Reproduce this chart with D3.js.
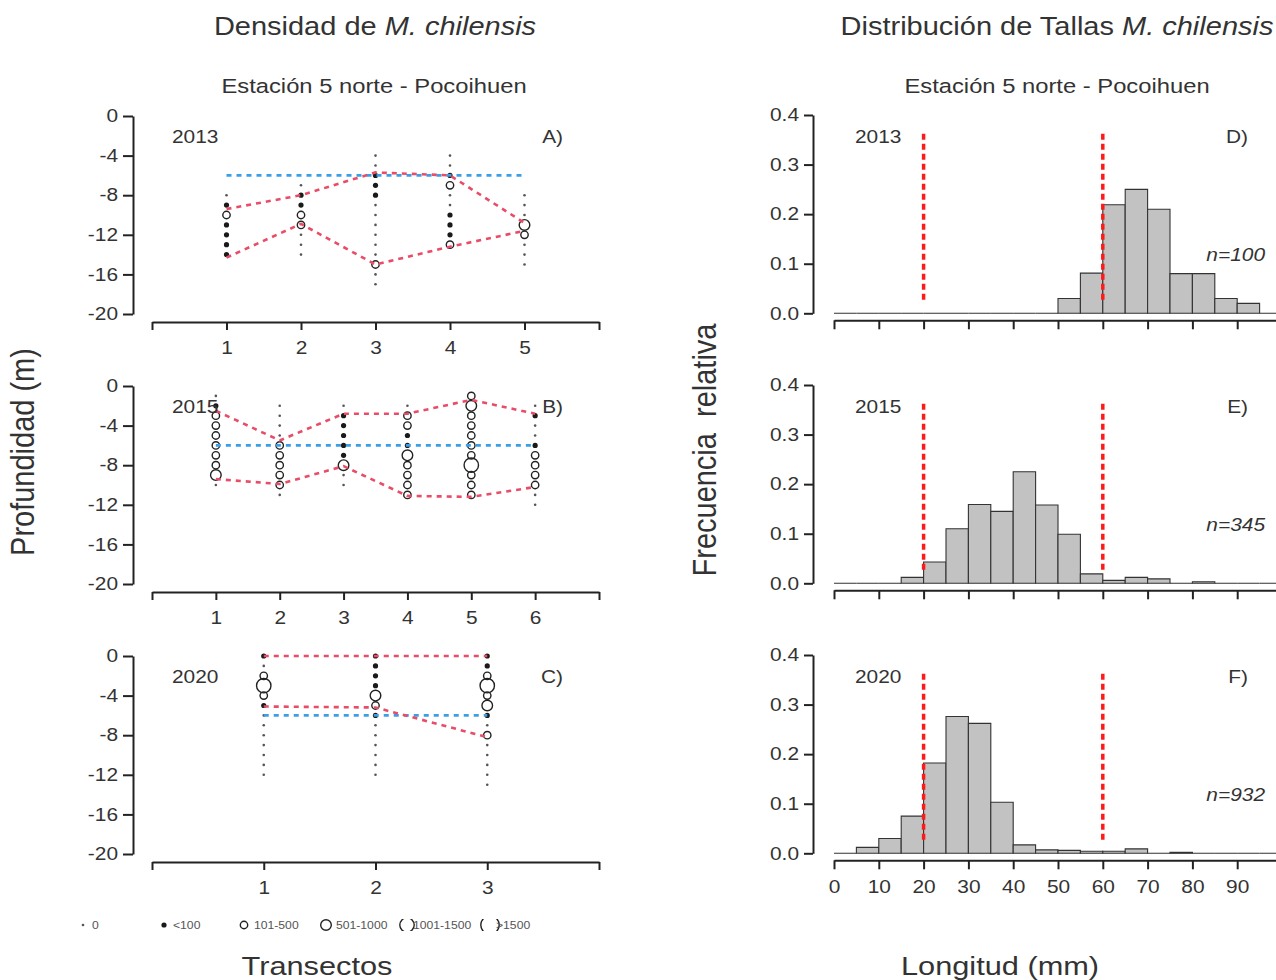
<!DOCTYPE html>
<html>
<head>
<meta charset="utf-8">
<script src="https://cdn.jsdelivr.net/npm/d3@7"></script>
<style>
  body { margin: 0; background: #fff; }
  svg { display: block; font-family: "Liberation Sans", Arial, sans-serif; }
</style>
</head>
<body>
<svg width="1276" height="980"></svg>
<script>
// horizontal stretch of the original figure (text looks wider than tall)
const SX = 1.16;

// ---- density panels (depth in m, one array per transect, from the top dot downwards)
const sizeClasses = ["0", "<100", "101-500", "501-1000", "1001-1500", ">1500"];

const transects2013 = [1, 2, 3, 4, 5];
const top2013 = [-8, -7, -4, -4, -8];
const dens2013 = [
    [0, 1, 2, 1, 1, 1, 1],
    [0, 1, 1, 2, 2, 0, 0, 0],
    [0, 0, 1, 1, 1, 0, 0, 0, 0, 0, 0, 2, 0, 0],
    [0, 0, 1, 2, 0, 0, 1, 1, 1, 2],
    [0, 0, 0, 3, 2, 0, 0, 0]
];
const upper2013 = [-9.4, -8, -5.7, -6, -10.8];
const lower2013 = [-14.3, -10.9, -15, -13.2, -11.6];

const transects2015 = [1, 2, 3, 4, 5, 6];
const top2015 = [-1, -2, -2, -2, -1, -2];
const dens2015 = [
    [0, 1, 2, 2, 2, 2, 2, 2, 3, 0],
    [0, 0, 0, 0, 2, 2, 2, 2, 2, 0],
    [0, 1, 1, 1, 1, 1, 3, 0, 0],
    [0, 2, 2, 1, 1, 3, 2, 2, 2, 2],
    [2, 3, 2, 2, 2, 2, 2, 4, 2, 2, 2],
    [0, 1, 0, 0, 1, 2, 2, 2, 2, 0, 0]
];
const upper2015 = [-2.5, -5.5, -2.8, -2.8, -1.4, -2.8];
const lower2015 = [-9.4, -9.9, -8.1, -11.1, -11.2, -10.2];

const transects2020 = [1, 2, 3];
const top2020 = [0, 0, 0];
const dens2020 = [
    [1, 0, 2, 4, 2, 1, 0, 0, 0, 0, 0, 0, 0],
    [1, 1, 1, 1, 3, 2, 1, 0, 0, 0, 0, 0, 0],
    [1, 1, 2, 4, 2, 3, 1, 0, 2, 0, 0, 0, 0, 0]
];
const upper2020 = [0, 0, 0];
const lower2020 = [-5.1, -5.2, -8.2];

const refDepth = -6;
const depthTicks = [0, -4, -8, -12, -16, -20];

// ---- size distribution panels (relative frequency per 5 mm class)
const binStarts = [0, 5, 10, 15, 20, 25, 30, 35, 40, 45, 50, 55, 60, 65, 70, 75, 80, 85, 90, 95];
const freq2013 = [0, 0, 0, 0, 0, 0, 0, 0, 0, 0, 0.03, 0.081, 0.219, 0.25, 0.21, 0.08, 0.08, 0.03, 0.02, 0];
const freq2015 = [0, 0, 0, 0.012, 0.043, 0.11, 0.159, 0.145, 0.225, 0.158, 0.099, 0.019, 0.006, 0.012, 0.009, 0, 0.003, 0, 0, 0];
const freq2020 = [0, 0.012, 0.03, 0.075, 0.182, 0.276, 0.262, 0.103, 0.017, 0.007, 0.006, 0.004, 0.004, 0.009, 0, 0.002, 0, 0, 0, 0];
const sampleN = ["n=100", "n=345", "n=932"];
const sizeLimits = [20, 60];
const lengthTicks = [0, 10, 20, 30, 40, 50, 60, 70, 80, 90, 100];
const years = ["2013", "2015", "2020"];

const svg = d3.select("svg");
const ink = "#333";

function txt(g, x, y, s, size, anchor) {
    return g.append("text")
        .attr("transform", `translate(${x},${y}) scale(${SX},1)`)
        .attr("text-anchor", anchor || "start")
        .style("font-size", size + "px")
        .style("fill", ink)
        .text(s);
}

function styleAxis(g) {
    g.select(".domain").attr("stroke", "#222").attr("stroke-width", 2);
    g.selectAll(".tick line").attr("stroke", "#222").attr("stroke-width", 2);
    g.selectAll("text")
        .style("font-size", "18px")
        .style("fill", ink)
        .style("font-family", "'Liberation Sans', Arial, sans-serif")
        .each(function() {
            const t = d3.select(this);
            const x = +t.attr("x") || 0;
            t.attr("x", 0).attr("transform", `translate(${x},0) scale(${SX},1)`);
        });
}

const radius = [1.3, 2.6, 3.7, 5.3, 7.2, 9.2];

function drawMarker(g, x, y, c) {
    if (c <= 1) {
        g.append("circle").attr("cx", x).attr("cy", y).attr("r", radius[c])
            .attr("fill", c === 0 ? "#555" : "#1a1a1a");
    } else {
        g.append("circle").attr("cx", x).attr("cy", y).attr("r", radius[c])
            .attr("fill", "none").attr("stroke", "#222").attr("stroke-width", 1.4);
    }
}

// ---- left column
const leftPanels = [
    { t: transects2013, top: top2013, dens: dens2013, up: upper2013, low: lower2013, y0: 116, lab: "A)" },
    { t: transects2015, top: top2015, dens: dens2015, up: upper2015, low: lower2015, y0: 386, lab: "B)" },
    { t: transects2020, top: top2020, dens: dens2020, up: upper2020, low: lower2020, y0: 656, lab: "C)" }
];

leftPanels.forEach((p, i) => {
    const g = svg.append("g");
    const n = p.t.length;
    const x = d3.scaleLinear().domain([0, n + 1]).range([152, 599]);
    const y = d3.scaleLinear().domain([0, -20]).range([p.y0, p.y0 + 198]);

    const ya = g.append("g").attr("transform", "translate(133,0)")
        .call(d3.axisLeft(y).tickValues(depthTicks).tickSize(10).tickPadding(5).tickSizeOuter(0).tickFormat(d => String(d)));
    styleAxis(ya);

    const xa = g.append("g").attr("transform", `translate(0,${p.y0 + 206})`)
        .call(d3.axisBottom(x).tickValues(d3.range(0, n + 2)).tickSize(8).tickPadding(11).tickSizeOuter(0)
            .tickFormat(d => (d === 0 || d === n + 1) ? "" : String(d)));
    styleAxis(xa);

    // dot columns
    p.dens.forEach((col, k) => {
        col.forEach((c, j) => drawMarker(g, x(p.t[k]), y(p.top[k] - j), c));
    });

    const line = d3.line().x((d, k) => x(p.t[k])).y(d => y(d));
    g.append("path").attr("d", line(p.t.map(() => refDepth)))
        .attr("fill", "none").attr("stroke", "#3b9fe8").attr("stroke-width", 2.6).attr("stroke-dasharray", "5,5");
    [p.up, p.low].forEach(arr => {
        g.append("path").attr("d", line(arr))
            .attr("fill", "none").attr("stroke", "#e84c67").attr("stroke-width", 2.6).attr("stroke-dasharray", "5,5");
    });

    txt(g, 172, p.y0 + 27, years[i], 18);
    txt(g, 563, p.y0 + 27, p.lab, 18, "end");
});

// legend
const lg = svg.append("g");
svg.append("defs").append("clipPath").attr("id", "legclip")
    .append("rect").attr("x", 0).attr("y", 919).attr("width", 600).attr("height", 12);
const legX = [83, 164, 244, 326, 407, 490];
const legTextX = [92, 173, 254, 336, 413, 496];
sizeClasses.forEach((s, i) => {
    const m = lg.append("g").attr("clip-path", "url(#legclip)");
    drawMarker(m, legX[i], 925, i);
    lg.append("text")
        .attr("transform", `translate(${legTextX[i]},929) scale(${SX},1)`)
        .style("font-size", "10.5px").style("fill", "#555").text(s);
});

// ---- right column
const rightPanels = [
    { f: freq2013, y0: 313.3, lab: "D)" },
    { f: freq2015, y0: 583.3, lab: "E)" },
    { f: freq2020, y0: 853.3, lab: "F)" }
];

rightPanels.forEach((p, i) => {
    const g = svg.append("g");
    const x = d3.scaleLinear().domain([0, 100]).range([834, 1282]);
    const y = d3.scaleLinear().domain([0, 0.4]).range([p.y0, p.y0 - 198.3]);

    const ya = g.append("g").attr("transform", "translate(813,0)")
        .call(d3.axisLeft(y).tickValues([0, 0.1, 0.2, 0.3, 0.4]).tickSize(9).tickPadding(5).tickSizeOuter(0).tickFormat(d3.format(".1f")));
    styleAxis(ya);

    const xa = g.append("g").attr("transform", `translate(0,${p.y0 + 7})`)
        .call(d3.axisBottom(x).tickValues(lengthTicks).tickSize(9).tickPadding(11).tickSizeOuter(0)
            .tickFormat(d => (i === 2 && d < 100) ? String(d) : ""));
    styleAxis(xa);

    // bars as paths so that empty classes still show as a flat line
    g.selectAll(".bar").data(p.f).enter().append("path")
        .attr("d", (d, k) => {
            const x0 = x(binStarts[k]), x1 = x(binStarts[k] + 5);
            return `M${x0},${y(0)}V${y(d)}H${x1}V${y(0)}Z`;
        })
        .attr("fill", "#c2c2c2").attr("stroke", "#333").attr("stroke-width", 1.1);

    sizeLimits.forEach(v => {
        g.append("line").attr("x1", x(v)).attr("x2", x(v)).attr("y1", y(0.362)).attr("y2", y(0.02))
            .attr("stroke", "#ff1a1a").attr("stroke-width", 3.5).attr("stroke-dasharray", "6,4");
    });

    txt(g, 855, p.y0 - 170, years[i], 18);
    txt(g, 1248, p.y0 - 170, p.lab, 18, "end");
    txt(g, 1265, p.y0 - 52, sampleN[i], 18, "end").style("font-style", "italic");
});

// ---- titles
const tl = txt(svg, 375, 35, "Densidad de ", 25, "middle");
tl.append("tspan").style("font-style", "italic").text("M. chilensis");
const tr = txt(svg, 1057, 35, "Distribución de Tallas ", 25, "middle");
tr.append("tspan").style("font-style", "italic").text("M. chilensis");
txt(svg, 374, 93, "Estación 5 norte - Pocoihuen", 20.5, "middle");
txt(svg, 1057, 93, "Estación 5 norte - Pocoihuen", 20.5, "middle");

svg.append("text")
    .attr("transform", `translate(34,452) scale(${SX},1) rotate(-90)`)
    .attr("text-anchor", "middle").style("font-size", "29px").style("fill", ink)
    .text("Profundidad (m)");
svg.append("text")
    .attr("transform", `translate(716,450) scale(${SX},1) rotate(-90)`)
    .attr("text-anchor", "middle").style("font-size", "29px").style("fill", ink)
    .style("white-space", "pre")
    .text("Frecuencia  relativa");

txt(svg, 317, 975, "Transectos", 26.5, "middle");
txt(svg, 1000, 975, "Longitud (mm)", 26.5, "middle");
</script>
</body>
</html>
